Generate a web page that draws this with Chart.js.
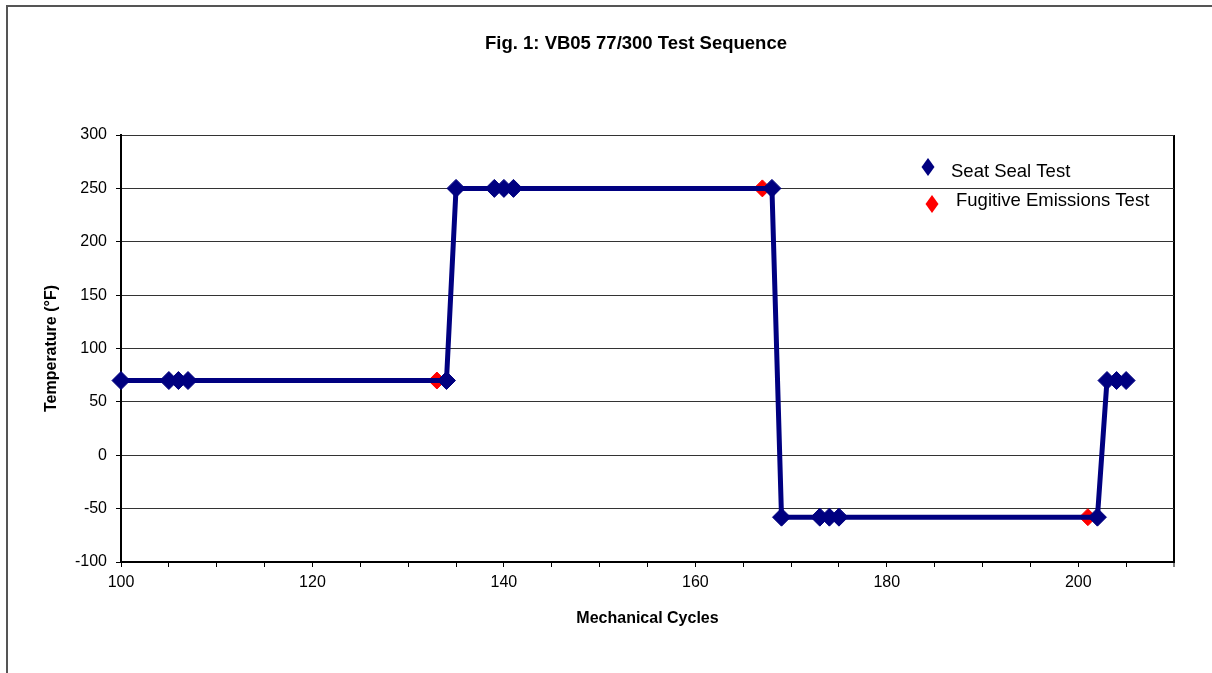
<!DOCTYPE html>
<html>
<head>
<meta charset="utf-8">
<title>Fig. 1: VB05 77/300 Test Sequence</title>
<script src="https://cdn.jsdelivr.net/npm/chart.js@4"></script>
<style>
  html, body { margin: 0; padding: 0; background: #fff; overflow: hidden; }
  #wrap { position: relative; width: 1212px; height: 673px; }
  #frame { position: absolute; left: 6px; top: 5px; width: 1400px; height: 900px; border: 2px solid #555; }
  #chart { position: absolute; left: 0; top: 0; }
</style>
</head>
<body>
<div id="wrap">
  <div id="frame"></div>
  <canvas id="chart" width="1212" height="673"></canvas>
</div>
<script>
// Seat seal test points (these also carry the temperature profile line)
const seatCycles = [100, 105, 106, 107, 134, 135, 139, 140, 141, 168, 169, 173, 174, 175, 202, 203, 204, 205];
const seatTemps  = [70, 70, 70, 70, 70, 250, 250, 250, 250, 250, -58, -58, -58, -58, -58, 70, 70, 70];

// Fugitive emissions test points
const fugitiveCycles = [133, 167, 201];
const fugitiveTemps  = [70, 250, -58];

const seriesNames = ['Seat Seal Test', 'Fugitive Emissions Test'];
const chartTitle = 'Fig. 1: VB05 77/300 Test Sequence';
const xTitle = 'Mechanical Cycles';
const yTitle = 'Temperature (\u00B0F)';

const FONT = "Arial, 'Liberation Sans', sans-serif";
const NAVY = '#000080';
const RED = '#FF0000';

function toPoints(xs, ys) {
    return xs.map((x, i) => ({ x: x, y: ys[i] }));
}

// Title (centred like the original, a bit left of the plot centre)
// and the legend stacked inside the plot at the upper right
const extras = {
    id: 'extras',
    afterDraw(chart) {
        const ctx = chart.ctx;
        ctx.save();
        ctx.fillStyle = '#000';
        ctx.font = 'bold 18.5px ' + FONT;
        ctx.textAlign = 'center';
        ctx.textBaseline = 'middle';
        ctx.fillText(chartTitle, 636, 44);

        const spots = [
            { mx: 928, my: 167, tx: 951, ty: 172 },
            { mx: 932, my: 204, tx: 956, ty: 201 }
        ];
        ctx.font = '18.5px ' + FONT;
        ctx.textAlign = 'left';
        chart.data.datasets.forEach((ds, i) => {
            const s = spots[i];
            ctx.fillStyle = ds.backgroundColor;
            ctx.beginPath();
            ctx.moveTo(s.mx, s.my - 9);
            ctx.lineTo(s.mx + 6.5, s.my);
            ctx.lineTo(s.mx, s.my + 9);
            ctx.lineTo(s.mx - 6.5, s.my);
            ctx.closePath();
            ctx.fill();
            ctx.fillStyle = '#000';
            ctx.fillText(ds.label, s.tx, s.ty);
        });
        ctx.restore();
    }
};

new Chart(document.getElementById('chart'), {
    type: 'scatter',
    data: {
        datasets: [
            {
                label: seriesNames[0],
                data: toPoints(seatCycles, seatTemps),
                showLine: true,
                clip: false,
                borderColor: NAVY,
                borderWidth: 5,
                backgroundColor: NAVY,
                pointStyle: 'rectRot',
                pointRadius: 9,
                pointBorderWidth: 1,
                pointBorderColor: NAVY,
                pointBackgroundColor: NAVY,
                tension: 0
            },
            {
                label: seriesNames[1],
                data: toPoints(fugitiveCycles, fugitiveTemps),
                showLine: false,
                clip: false,
                backgroundColor: RED,
                borderColor: RED,
                pointStyle: 'rectRot',
                pointRadius: 8.5,
                pointBorderWidth: 1,
                pointBackgroundColor: RED,
                pointBorderColor: RED
            }
        ]
    },
    options: {
        responsive: false,
        animation: false,
        layout: { padding: { left: 0, right: 38, top: 135, bottom: 0 } },
        plugins: {
            legend: { display: false },
            tooltip: { enabled: false },
            title: { display: false }
        },
        scales: {
            x: {
                type: 'linear',
                min: 100,
                max: 210,
                afterFit(scale) { scale.height = 111; },
                border: { display: true, color: '#000', width: 2 },
                grid: {
                    drawOnChartArea: true,
                    color: c => (c.tick && c.tick.value === 210) ? '#000' : 'rgba(0,0,0,0)',
                    lineWidth: c => (c.tick && c.tick.value === 210) ? 2 : 1,
                    drawTicks: true,
                    tickLength: 5,
                    tickColor: '#000',
                    tickWidth: 1
                },
                ticks: {
                    stepSize: 5,
                    autoSkip: false,
                    maxRotation: 0,
                    padding: 6,
                    color: '#000',
                    font: { family: FONT, size: 16 },
                    callback: v => (v % 20 === 0 ? v : '')
                },
                title: {
                    display: true,
                    text: xTitle,
                    color: '#000',
                    font: { family: FONT, size: 16, weight: 'bold', lineHeight: 1.2 },
                    padding: { top: 0, bottom: 45 }
                }
            },
            y: {
                min: -100,
                max: 300,
                afterFit(scale) { scale.width = 121; },
                border: { display: true, color: '#000', width: 2 },
                grid: {
                    color: '#333',
                    lineWidth: 1,
                    drawTicks: true,
                    tickLength: 5,
                    tickColor: '#000'
                },
                ticks: {
                    stepSize: 50,
                    padding: 9,
                    color: '#000',
                    font: { family: FONT, size: 16 }
                },
                title: {
                    display: true,
                    text: yTitle,
                    color: '#000',
                    font: { family: FONT, size: 16, weight: 'bold', lineHeight: 1.2 },
                    padding: { top: 42, bottom: 0 }
                }
            }
        }
    },
    plugins: [extras]
});
</script>
</body>
</html>
